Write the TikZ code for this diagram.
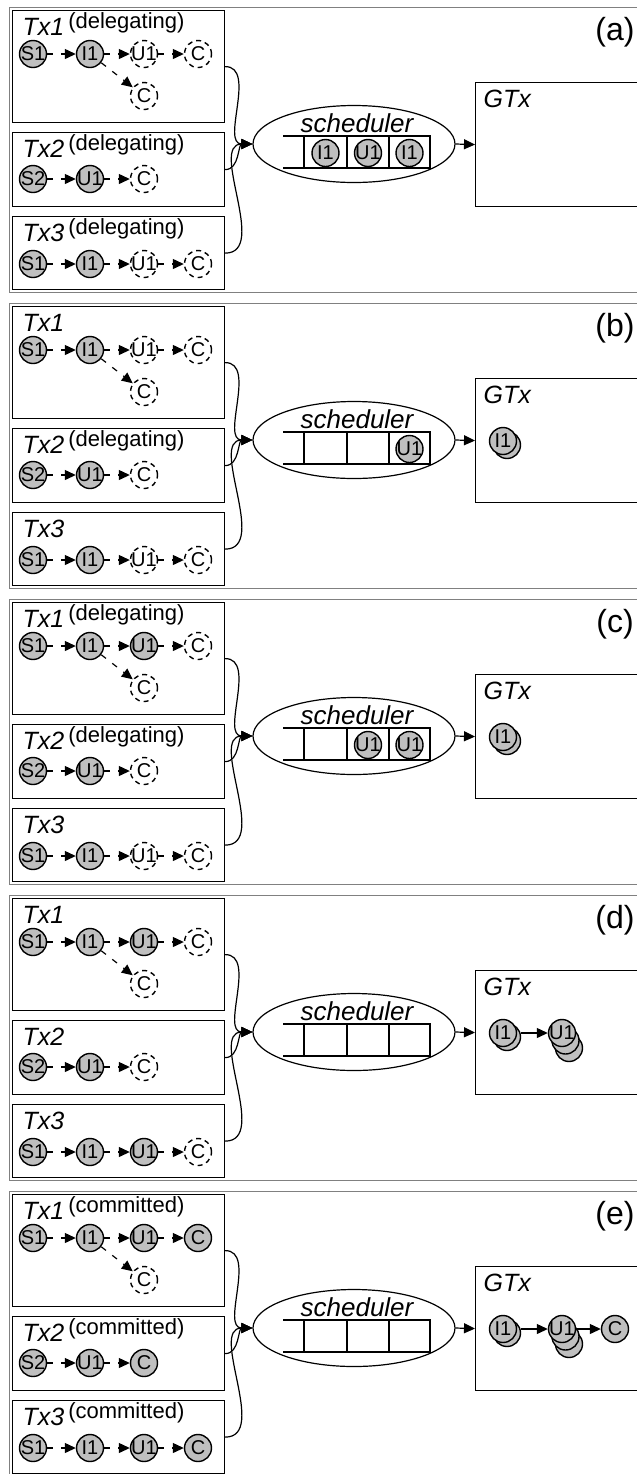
\documentclass[tikz,border=0pt]{standalone}
\usepackage{fontspec}
\setmainfont{Liberation Sans}
\usetikzlibrary{arrows.meta,shapes.geometric,positioning}

\begin{document}
\begin{tikzpicture}[x=0.5pt, y=-0.5pt, line width=0.6pt,
        panelframe/.style={draw=gray, line width=0.5pt},
        txbox/.style={rectangle, draw, anchor=north west, minimum width=106pt, inner sep=0pt},
        title/.style={anchor=base west, inner sep=0pt, font=\itshape\fontsize{12.5}{12.5}\selectfont},
        done/.style={circle, draw, line width=0.7pt, fill=gray!50, minimum size=13.5pt, inner sep=-2pt, font=\fontsize{10}{10}\selectfont},
        todo/.style={circle, draw, line width=0.7pt, dash pattern=on 2.5pt off 2pt, minimum size=13.5pt, inner sep=-2pt, font=\fontsize{10}{10}\selectfont},
        flow/.style={dash pattern=on 3pt off 4pt, -{Triangle[length=5.5pt, width=5pt]}},
        feed/.style={-{Triangle[length=5.5pt, width=5pt]}},
        sched/.style={ellipse, draw, minimum width=101pt, minimum height=38.5pt, inner sep=0pt},
        tag/.style={font=\fontsize{16}{16}\selectfont, inner sep=0pt}]

    \useasboundingbox (0,0) rectangle (637,1474);
    \clip (0,0) rectangle (637,1474);

    % one panel per step
    \foreach \p/\k/\ua/\ub/\cs/\sa/\sb/\sc in {
        a/0/todo/todo/todo/{(delegating)}/{(delegating)}/{(delegating)},
        b/1/todo/todo/todo/{}/{(delegating)}/{},
        c/2/done/todo/todo/{(delegating)}/{(delegating)}/{},
        d/3/done/done/todo/{}/{}/{},
        e/4/done/done/done/{(committed)}/{(committed)}/{(committed)}} {
    \begin{scope}[yshift=-\k*148pt, name prefix=\p-]
        \draw[panelframe] (9,7) rectangle (700,292);
        \node[tag] (tag) at (615,32) {(\p)};

        % transactions
        \node[txbox, minimum height=56pt] (tx1) at (12,10) {};
        \node[txbox, minimum height=37pt] (tx2) at (12,132) {};
        \node[txbox, minimum height=36.5pt] (tx3) at (12,216) {};
        \node[title] (l1) at (22,35) {Tx1\/\hspace{2pt}\raisebox{3.5pt}{\upshape\fontsize{11}{11}\selectfont\sa}};
        \node[title] (l2) at (22,157) {Tx2\/\hspace{2pt}\raisebox{3.5pt}{\upshape\fontsize{11}{11}\selectfont\sb}};
        \node[title] (l3) at (22,241) {Tx3\/\hspace{2pt}\raisebox{3.5pt}{\upshape\fontsize{11}{11}\selectfont\sc}};

        \node[done] (t1s) at (33,54) {S1};
        \node[done, right=28.5pt of t1s.center, anchor=center] (t1i) {I1};
        \node[\ua, right=27pt of t1i.center, anchor=center] (t1u) {U1};
        \node[\cs, right=27pt of t1u.center, anchor=center] (t1c) {C};
        \node[todo] (t1x) at (144,96) {C};
        \draw[flow] (t1s) -- (t1i);
        \draw[flow] (t1i) -- (t1u);
        \draw[flow] (t1u) -- (t1c);
        \draw[flow] (t1i) -- (t1x);

        \node[done] (t2s) at (33,179) {S2};
        \node[done, right=28.5pt of t2s.center, anchor=center] (t2u) {U1};
        \node[\cs, right=27pt of t2u.center, anchor=center] (t2c) {C};
        \draw[flow] (t2s) -- (t2u);
        \draw[flow] (t2u) -- (t2c);

        \node[done] (t3s) at (33,264) {S1};
        \node[done, right=28.5pt of t3s.center, anchor=center] (t3i) {I1};
        \node[\ub, right=27pt of t3i.center, anchor=center] (t3u) {U1};
        \node[\cs, right=27pt of t3u.center, anchor=center] (t3c) {C};
        \draw[flow] (t3s) -- (t3i);
        \draw[flow] (t3i) -- (t3u);
        \draw[flow] (t3u) -- (t3c);

        % scheduler with its queue
        \node[sched] (sched) at (354,144) {};
        \node[font=\itshape\fontsize{13}{13}\selectfont, anchor=base, inner sep=0pt] (sname) at (357,132) {scheduler};
        \draw (283,136) -- (431,136) (283,168) -- (431,168);
        \foreach \x in {304,347,389,430}
            \draw (\x,136) -- (\x,168);

        % global transaction
        \node[txbox, minimum width=112pt, minimum height=62pt] (gtx) at (475,82) {};
        \node[title] (gname) at (483,107) {GTx};

        \draw[feed] (tx1.east) to[out=0, in=180] (sched.west);
        \draw[feed] (tx2.east) to[out=0, in=180] (sched.west);
        \draw[feed] (tx3.east) to[out=0, in=180] (sched.west);
        \draw[feed] (sched.east) -- (gtx.west);
    \end{scope}
    }

    % queue and GTx contents
    \begin{scope}[name prefix=a-]
        \node[done] (q2) at (325.5,153) {I1};
        \node[done] (q3) at (368,153) {U1};
        \node[done] (q4) at (409.5,153) {I1};
    \end{scope}

    \begin{scope}[yshift=-148pt, name prefix=b-]
        \node[done] (q4) at (409.5,153) {U1};
        \node[done] (g1b) at (507,149) {};
        \node[done] (g1) at (503,145) {I1};
    \end{scope}

    \begin{scope}[yshift=-296pt, name prefix=c-]
        \node[done] (q3) at (368,153) {U1};
        \node[done] (q4) at (409.5,153) {U1};
        \node[done] (g1b) at (507,149) {};
        \node[done] (g1) at (503,145) {I1};
    \end{scope}

    \begin{scope}[yshift=-444pt, name prefix=d-]
        \node[done] (g1b) at (507,149) {};
        \node[done] (g1) at (503,145) {I1};
        \node[done] (g2c) at (569,160) {};
        \node[done] (g2b) at (565.5,152.5) {};
        \node[done] (g2) at (562,145) {U1};
        \draw[feed, shorten <=2pt] (g1) -- (g2);
    \end{scope}

    \begin{scope}[yshift=-592pt, name prefix=e-]
        \node[done] (g1b) at (507,149) {};
        \node[done] (g1) at (503,145) {I1};
        \node[done] (g2c) at (569,160) {};
        \node[done] (g2b) at (565.5,152.5) {};
        \node[done] (g2) at (562,145) {U1};
        \node[done] (g3) at (615,145) {C};
        \draw[feed, shorten <=2pt] (g1) -- (g2);
        \draw[feed] (g2) -- (g3);
    \end{scope}
\end{tikzpicture}
\end{document}
